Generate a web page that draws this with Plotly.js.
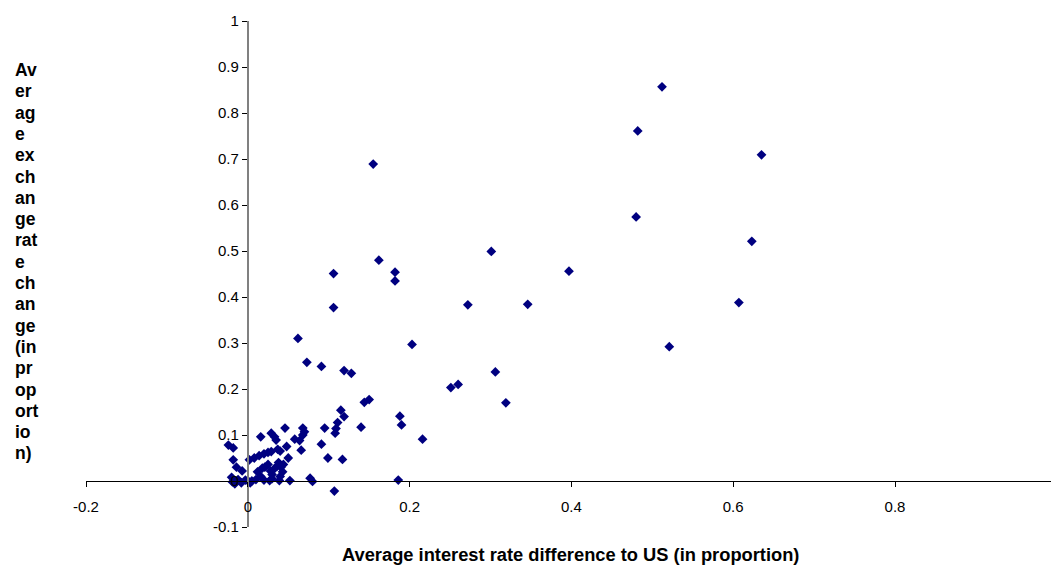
<!DOCTYPE html>
<html>
<head>
<meta charset="utf-8">
<script src="https://cdn.plot.ly/plotly-3.0.1.min.js"></script>
<style>html,body{margin:0;padding:0;background:#fff;}#chart{width:1051px;height:565px;}</style>
</head>
<body>
<div id="chart"></div>
<script>
// Average interest rate difference to US (in proportion)
const interestDiff = [
  0.512, 0.482, 0.635, 0.155, 0.480, 0.623, 0.301, 0.162, 0.106, 0.182,
  0.182, 0.397, 0.607, 0.272, 0.346, 0.106, 0.062, 0.203, 0.521, 0.073,
  0.091, 0.119, 0.128, 0.306, 0.260, 0.251, 0.319, 0.150, 0.144, 0.115,
  0.119, 0.188, 0.190, 0.111, 0.109, 0.108, 0.140, 0.216, 0.099, 0.117,
  0.186, 0.107,
  0.095, 0.091, 0.068, 0.070, 0.068, 0.058, 0.064, 0.066, 0.077, 0.080,
  0.052, 0.048, 0.046, 0.050,
  0.016, 0.029, 0.033, 0.035, 0.029, 0.037, 0.040,
  0.002, 0.008, 0.014, 0.020, 0.025,
  0.021, 0.025, 0.028, 0.030, 0.033, 0.036, 0.038, 0.041, 0.043, 0.044, 0.040, 0.030,
  0.016, 0.012, 0.018, 0.020, 0.010, 0.005, 0.000, 0.027, 0.039,
  -0.024, -0.018, -0.018, -0.014, -0.007, -0.020, -0.016, -0.012, -0.008, -0.003, -0.019, 0.003
];
// Average exchange rate change (in proportion)
const exchangeChange = [
  0.857, 0.761, 0.709, 0.689, 0.574, 0.521, 0.499, 0.480, 0.451, 0.454,
  0.435, 0.456, 0.388, 0.383, 0.384, 0.377, 0.310, 0.297, 0.292, 0.258,
  0.249, 0.240, 0.234, 0.237, 0.210, 0.203, 0.170, 0.177, 0.171, 0.154,
  0.140, 0.141, 0.122, 0.127, 0.114, 0.104, 0.117, 0.091, 0.050, 0.047,
  0.002, -0.022,
  0.115, 0.080, 0.115, 0.107, 0.100, 0.091, 0.088, 0.067, 0.006, -0.001,
  0.001, 0.075, 0.115, 0.050,
  0.096, 0.104, 0.096, 0.089, 0.064, 0.069, 0.065,
  0.046, 0.050, 0.055, 0.059, 0.062,
  0.030, 0.036, 0.022, 0.014, 0.027, 0.032, 0.040, 0.030, 0.020, 0.036, 0.010, 0.005,
  0.010, 0.020, 0.028, 0.002, 0.003, 0.000, 0.001, 0.001, 0.001,
  0.078, 0.072, 0.046, 0.030, 0.022, 0.008, -0.006, 0.003, -0.004, 0.002, -0.002, -0.004
];
const xTickVals = [-0.2, 0, 0.2, 0.4, 0.6, 0.8];
const xTickText = ["-0.2", "0", "0.2", "0.4", "0.6", "0.8"];
const yTickVals = [-0.1, 0, 0.1, 0.2, 0.3, 0.4, 0.5, 0.6, 0.7, 0.8, 0.9, 1];
const yTickText = ["-0.1", "0", "0.1", "0.2", "0.3", "0.4", "0.5", "0.6", "0.7", "0.8", "0.9", "1"];
const xTitle = "Average interest rate difference to US (in proportion)";
const yTitleLines = ["Av","er","ag","e","ex","ch","an","ge","rat","e","ch","an","ge","(in","pr","op","ort","io","n)"];

const W = 1051, H = 565;
const mL = 86, mR = 0, mT = 21, mB = 38;
const plotW = W - mL - mR, plotH = H - mT - mB;
const xRange = [-0.2, -0.2 + plotW / 809];
const yRange = [-0.1, 1];
const font = "Liberation Sans, Arial, sans-serif";

const annotations = [];
yTitleLines.forEach((t, i) => {
  const py = 70 + i * 21.3;
  annotations.push({
    text: "<b>" + t + "</b>", xref: "paper", yref: "paper",
    x: (13 - mL) / plotW, y: (H - mB - py) / plotH,
    xanchor: "left", yanchor: "middle", showarrow: false,
    font: {family: font, size: 17.5, color: "#000"}
  });
});
annotations.push({
  text: "<b>" + xTitle + "</b>", xref: "paper", yref: "paper",
  x: (570 - mL) / plotW, y: (H - mB - 554) / plotH, xanchor: "center", yanchor: "middle",
  showarrow: false, font: {family: font, size: 18.3, color: "#000"}
});

const trace = {
  type: "scatter", mode: "markers",
  x: interestDiff, y: exchangeChange,
  marker: {symbol: "diamond", size: 7.5, color: "#000080", line: {width: 0}},
  hoverinfo: "x+y"
};

const layout = {
  width: W, height: H,
  margin: {l: mL, r: mR, t: mT, b: mB, pad: 0},
  paper_bgcolor: "#fff", plot_bgcolor: "#fff",
  showlegend: false,
  font: {family: font, size: 15, color: "#000"},
  xaxis: {
    range: xRange, anchor: "free",
    position: (0 - yRange[0]) / (yRange[1] - yRange[0]),
    showline: true, linecolor: "#000", linewidth: 1,
    ticks: "outside", ticklen: 5, tickwidth: 1, tickcolor: "#000",
    tickmode: "array", tickvals: xTickVals, ticktext: xTickText,
    ticklabelstandoff: 7,
    tickfont: {family: font, size: 15, color: "#000"},
    showgrid: false, zeroline: false, fixedrange: true
  },
  yaxis: {
    range: yRange, anchor: "free",
    position: (0 - xRange[0]) / (xRange[1] - xRange[0]),
    showline: true, linecolor: "#808080", linewidth: 2,
    ticks: "outside", ticklen: 5, tickwidth: 1, tickcolor: "#000",
    tickmode: "array", tickvals: yTickVals, ticktext: yTickText,
    tickfont: {family: font, size: 15, color: "#000"},
    showgrid: false, zeroline: false, fixedrange: true
  },
  annotations: annotations
};

Plotly.newPlot("chart", [trace], layout, {displayModeBar: false, staticPlot: true});
</script>
</body>
</html>
